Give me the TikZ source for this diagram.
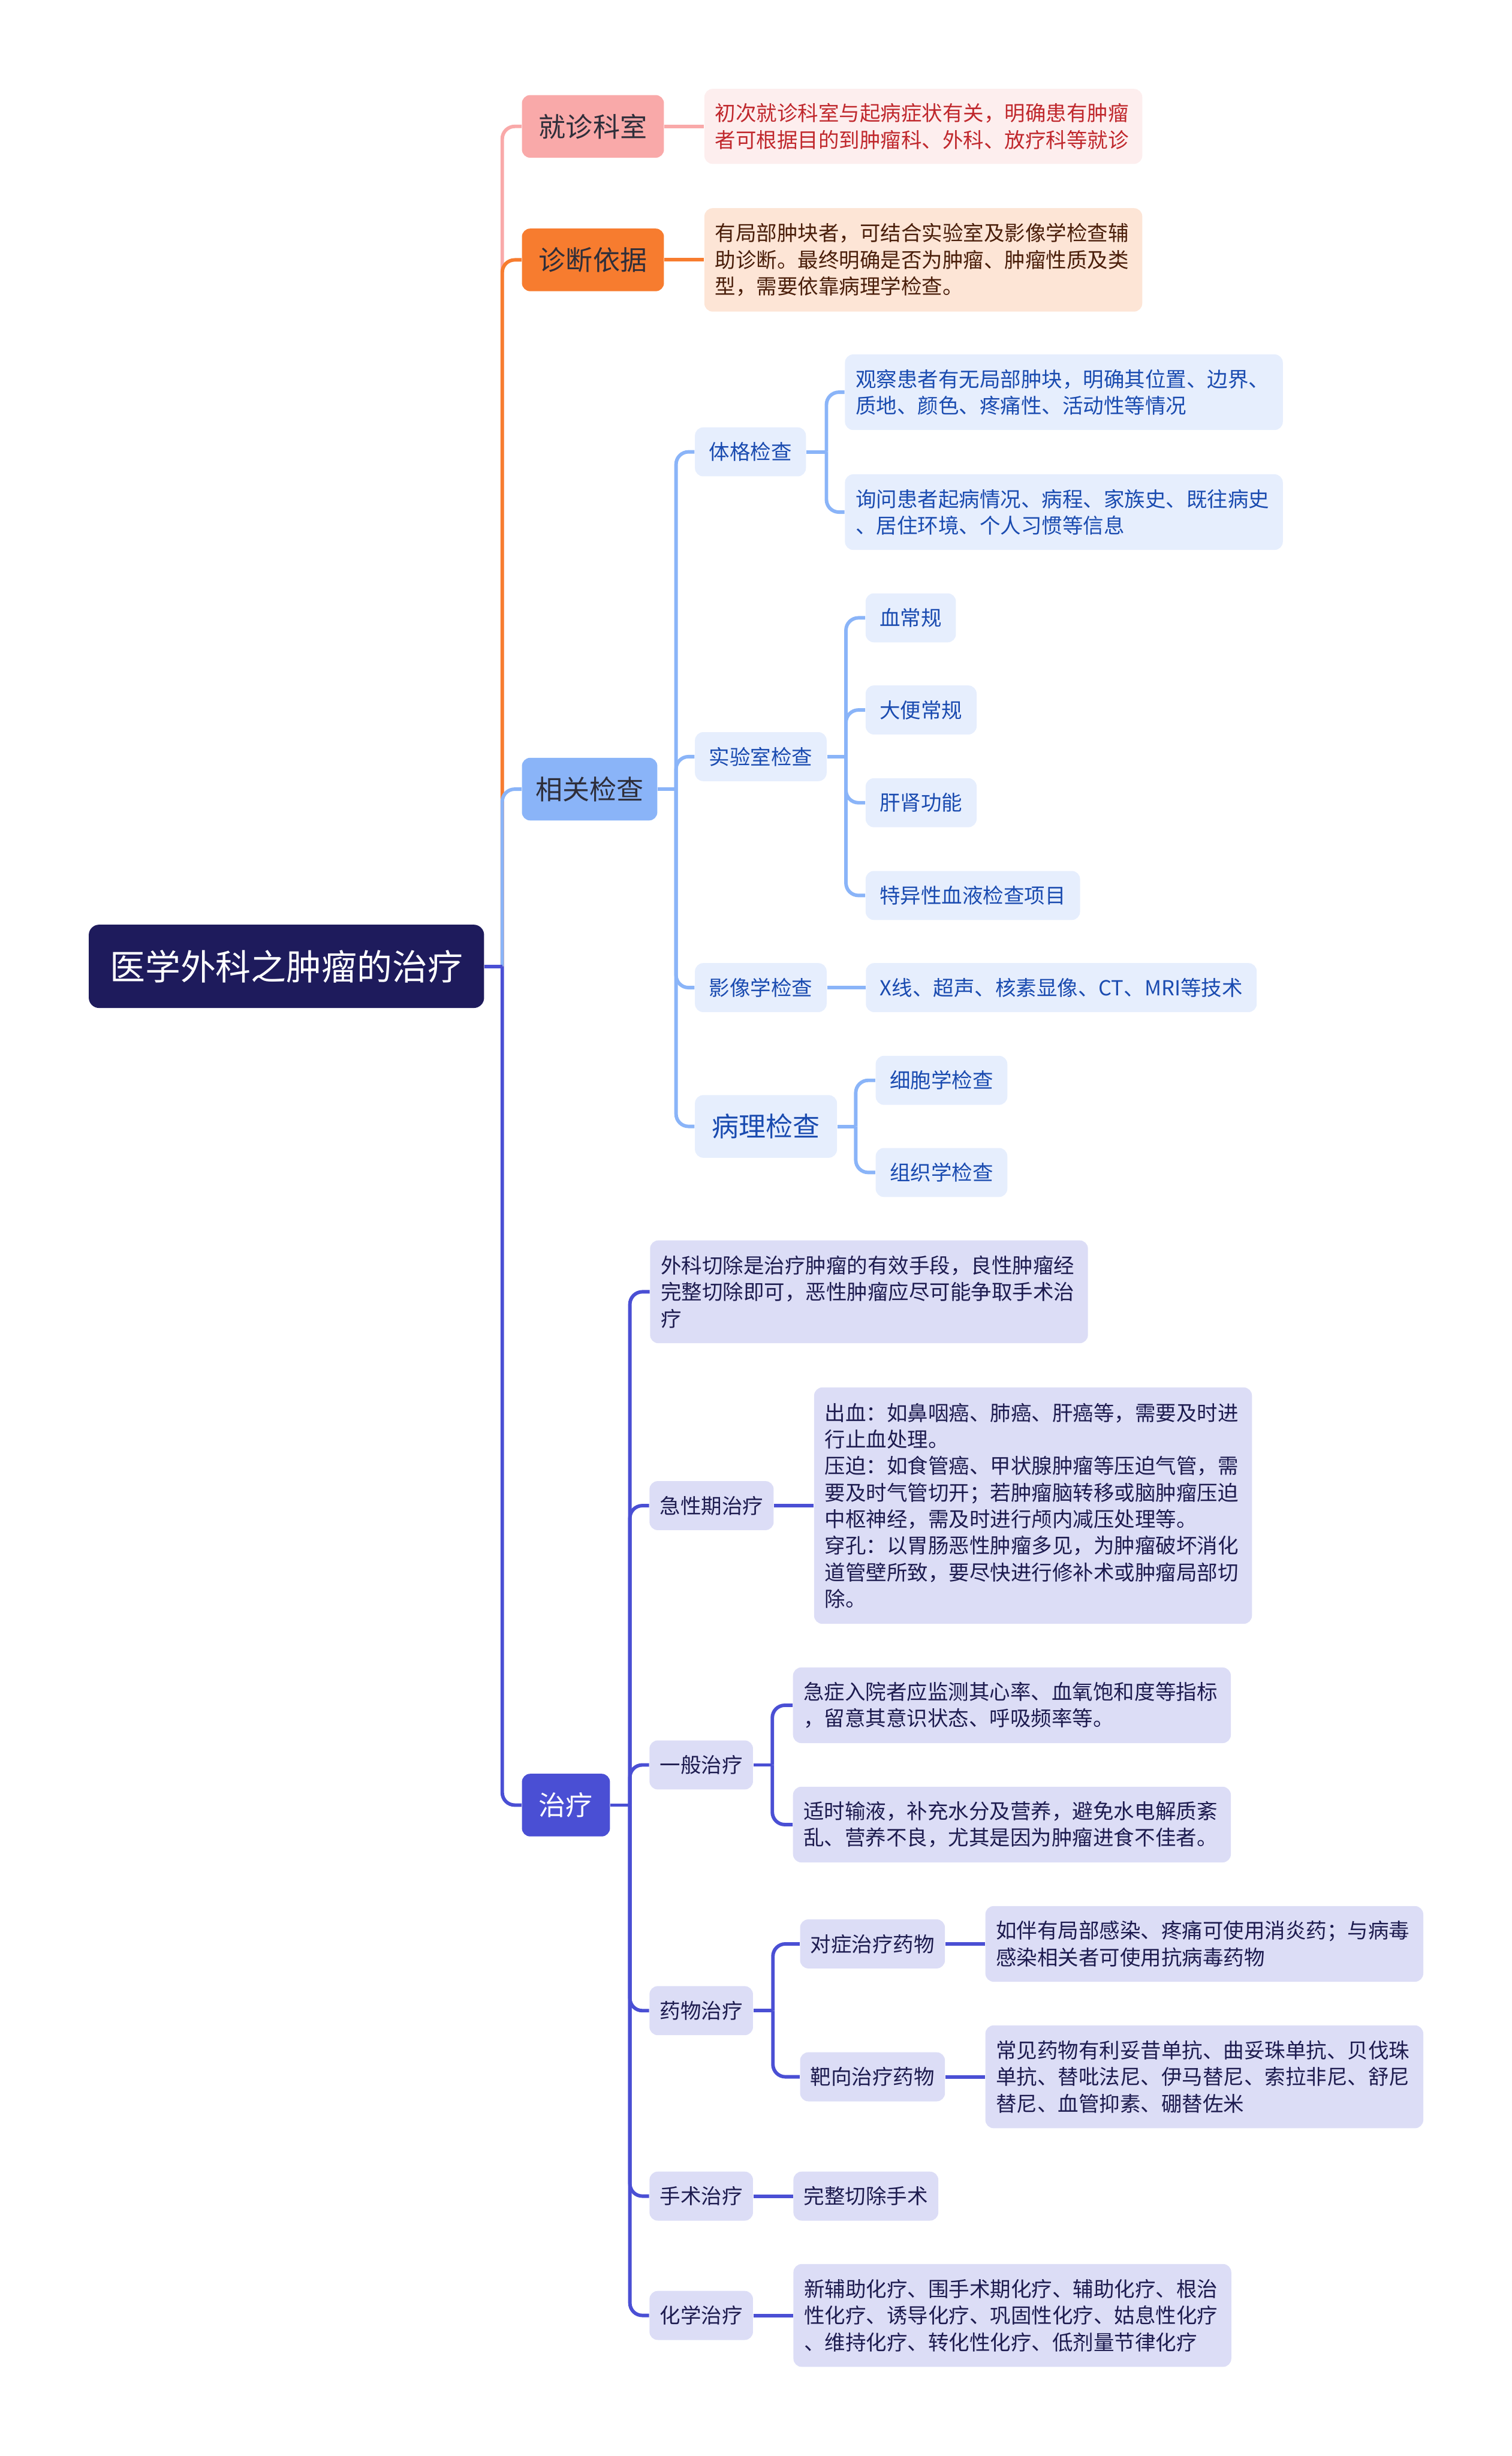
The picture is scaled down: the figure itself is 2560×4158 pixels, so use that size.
\documentclass[tikz,border=0pt]{standalone}
\usepackage{fontspec}
\setmainfont{Noto Sans CJK SC}
\usepackage{xcolor}
\usetikzlibrary{positioning}

\definecolor{rootbg}{HTML}{1E1B5C}
\definecolor{pinkA}{HTML}{F9A9A9}
\definecolor{pinkB}{HTML}{FDEEEE}
\definecolor{pinkT}{HTML}{C0282D}
\definecolor{orangeA}{HTML}{F77C2F}
\definecolor{orangeB}{HTML}{FDE5D6}
\definecolor{orangeT}{HTML}{4A1E0A}
\definecolor{blueA}{HTML}{8AB4F8}
\definecolor{blueB}{HTML}{E6EEFD}
\definecolor{blueT}{HTML}{1A4BB0}
\definecolor{indA}{HTML}{4A4FD4}
\definecolor{indB}{HTML}{DCDDF6}
\definecolor{indT}{HTML}{1D1B4F}
\definecolor{labelT}{HTML}{2E2E3A}

\begin{document}
\begin{tikzpicture}[
  x=0.01cm, y=-0.01cm,
  node distance=5mm and 6.7mm,
  box/.style={rounded corners=4pt,inner ysep=0pt,inner xsep=6.8pt,
              font=\fontsize{9.96}{12.8}\selectfont,minimum height=8.3mm},
  lvone/.style={box,font=\fontsize{13}{16}\selectfont,minimum height=10.6mm,inner xsep=8.2pt},
  leaf/.style={box,text width=7.05cm,align=left,inner xsep=0.18cm},
  bluebox/.style={fill=blueB,text=blueT},
  indbox/.style={fill=indB,text=indT},
  tight/.style={inner xsep=5pt},
  conn/.style={line width=1.7pt},
  elbow/.style={conn,rounded corners=6pt},
]
\useasboundingbox (0,0) rectangle (2560,4158);

% root and main branches
\node[box,fill=rootbg,text=white,font=\fontsize{17}{20}\selectfont,rounded corners=5pt,
      minimum width=6.69cm,minimum height=1.41cm] (root) at (485,1636) {医学外科之肿瘤的治疗};
\node[lvone,fill=pinkA,text=labelT,anchor=west] (jzks) at (883,214) {就诊科室};
\node[leaf,fill=pinkB,text=pinkT,minimum height=12.7mm,right=of jzks] (jzksA)
  {初次就诊科室与起病症状有关，明确患有肿瘤\\者可根据目的到肿瘤科、外科、放疗科等就诊};
\node[lvone,fill=orangeA,text=labelT,anchor=west] (zdyj) at (883,440) {诊断依据};
\node[leaf,fill=orangeB,text=orangeT,minimum height=17.5mm,right=of zdyj] (zdyjA)
  {有局部肿块者，可结合实验室及影像学检查辅\\助诊断。最终明确是否为肿瘤、肿瘤性质及类\\型，需要依靠病理学检查。};
\node[lvone,fill=blueA,text=labelT,anchor=west,inner xsep=6.6pt] (xgjc) at (883,1336) {相关检查};
\node[lvone,fill=indA,text=white,anchor=west] (zl) at (883,3056) {治疗};

% 相关检查
\node[box,bluebox,anchor=west] (tgjc) at (1176,765) {体格检查};
\node[leaf,bluebox,minimum height=12.8mm,anchor=west] (tgjcA) at (1430,664)
  {观察患者有无局部肿块，明确其位置、边界、\\质地、颜色、疼痛性、活动性等情况};
\node[leaf,bluebox,minimum height=12.8mm,anchor=west] (tgjcB) at (1430,867)
  {询问患者起病情况、病程、家族史、既往病史\\、居住环境、个人习惯等信息};
\node[box,bluebox,anchor=west] (sysjc) at (1176,1281) {实验室检查};
\node[box,bluebox,anchor=west] (xcg) at (1465,1046) {血常规};
\node[box,bluebox,anchor=west] (dbcg) at (1465,1202) {大便常规};
\node[box,bluebox,anchor=west] (gsgn) at (1465,1359) {肝肾功能};
\node[box,bluebox,anchor=west] (txx) at (1465,1516) {特异性血液检查项目};
\node[box,bluebox,anchor=west] (yxxjc) at (1176,1672) {影像学检查};
\node[box,bluebox,right=6.5mm of yxxjc] (yxxjcA) {X线、超声、核素显像、CT、MRI等技术};
\node[lvone,bluebox,anchor=west] (bljc) at (1176,1907) {病理检查};
\node[box,bluebox,anchor=west] (xbx) at (1482,1829) {细胞学检查};
\node[box,bluebox,anchor=west] (zzx) at (1482,1985) {组织学检查};

% 治疗
\node[leaf,indbox,minimum height=17.4mm,anchor=west] (wkqc) at (1100,2187)
  {外科切除是治疗肿瘤的有效手段，良性肿瘤经\\完整切除即可，恶性肿瘤应尽可能争取手术治\\疗};
\node[box,indbox,tight,anchor=west] (jxq) at (1099,2549) {急性期治疗};
\node[leaf,indbox,minimum height=40mm,right=of jxq] (jxqA)
  {出血：如鼻咽癌、肺癌、肝癌等，需要及时进\\行止血处理。\\压迫：如食管癌、甲状腺肿瘤等压迫气管，需\\要及时气管切开；若肿瘤脑转移或脑肿瘤压迫\\中枢神经，需及时进行颅内减压处理等。\\穿孔：以胃肠恶性肿瘤多见，为肿瘤破坏消化\\道管壁所致，要尽快进行修补术或肿瘤局部切\\除。};
\node[box,indbox,tight,anchor=west] (ybzl) at (1099,2988) {一般治疗};
\node[leaf,indbox,minimum height=12.8mm,anchor=west] (ybzlA) at (1342,2887)
  {急症入院者应监测其心率、血氧饱和度等指标\\，留意其意识状态、呼吸频率等。};
\node[leaf,indbox,minimum height=12.8mm,anchor=west] (ybzlB) at (1342,3089)
  {适时输液，补充水分及营养，避免水电解质紊\\乱、营养不良，尤其是因为肿瘤进食不佳者。};
\node[box,indbox,tight,anchor=west] (ywzl) at (1099,3404) {药物治疗};
\node[box,indbox,tight,anchor=west] (dzzl) at (1354,3291) {对症治疗药物};
\node[leaf,indbox,minimum height=12.8mm,right=of dzzl] (dzzlA)
  {如伴有局部感染、疼痛可使用消炎药；与病毒\\感染相关者可使用抗病毒药物};
\node[box,indbox,tight,anchor=west] (bxzl) at (1354,3516) {靶向治疗药物};
\node[leaf,indbox,minimum height=17.4mm,right=of bxzl] (bxzlA)
  {常见药物有利妥昔单抗、曲妥珠单抗、贝伐珠\\单抗、替吡法尼、伊马替尼、索拉非尼、舒尼\\替尼、血管抑素、硼替佐米};
\node[box,indbox,tight,anchor=west] (sszl) at (1099,3718) {手术治疗};
\node[box,indbox,tight,right=of sszl] (sszlA) {完整切除手术};
\node[box,indbox,tight,anchor=west] (hxzl) at (1099,3920) {化学治疗};
\node[leaf,indbox,minimum height=17.4mm,right=of hxzl] (hxzlA)
  {新辅助化疗、围手术期化疗、辅助化疗、根治\\性化疗、诱导化疗、巩固性化疗、姑息性化疗\\、维持化疗、转化性化疗、低剂量节律化疗};

% junctions
\coordinate[right=3mm of root] (j0);
\coordinate[right=3.1mm of xgjc] (j1);
\coordinate[right=3.4mm of tgjc] (j2);
\coordinate[right=3.2mm of sysjc] (j3);
\coordinate[right=3.1mm of bljc] (j4);
\coordinate[right=3.3mm of zl] (j5);
\coordinate[right=3.2mm of ybzl] (j6);
\coordinate[right=3.3mm of ywzl] (j7);

% connectors
\draw[elbow,pinkA] (j0) |- (jzks.west); \draw[conn,pinkA] (jzks) -- (jzksA);
\draw[elbow,orangeA] (j0) |- (zdyj.west); \draw[conn,orangeA] (zdyj) -- (zdyjA);
\draw[elbow,blueA] (j0) |- (xgjc.west);
\draw[elbow,indA] (j0) |- (zl.west);
\draw[conn,indA] (root.east) -- (j0);

\draw[conn,blueA] (xgjc.east) -- (j1);
\draw[elbow,blueA] (j1) |- (tgjc.west); \draw[elbow,blueA] (j1) |- (sysjc.west);
\draw[elbow,blueA] (j1) |- (yxxjc.west); \draw[elbow,blueA] (j1) |- (bljc.west);
\draw[conn,blueA] (tgjc.east) -- (j2);
\draw[elbow,blueA] (j2) |- (tgjcA.west); \draw[elbow,blueA] (j2) |- (tgjcB.west);
\draw[conn,blueA] (sysjc.east) -- (j3);
\draw[elbow,blueA] (j3) |- (xcg.west); \draw[elbow,blueA] (j3) |- (dbcg.west);
\draw[elbow,blueA] (j3) |- (gsgn.west); \draw[elbow,blueA] (j3) |- (txx.west);
\draw[conn,blueA] (yxxjc) -- (yxxjcA);
\draw[conn,blueA] (bljc.east) -- (j4);
\draw[elbow,blueA] (j4) |- (xbx.west); \draw[elbow,blueA] (j4) |- (zzx.west);

\draw[conn,indA] (zl.east) -- (j5);
\draw[elbow,indA] (j5) |- (wkqc.west); \draw[elbow,indA] (j5) |- (jxq.west);
\draw[elbow,indA] (j5) |- (ybzl.west); \draw[elbow,indA] (j5) |- (ywzl.west);
\draw[elbow,indA] (j5) |- (sszl.west); \draw[elbow,indA] (j5) |- (hxzl.west);
\draw[conn,indA] (jxq) -- (jxqA);
\draw[conn,indA] (ybzl.east) -- (j6);
\draw[elbow,indA] (j6) |- (ybzlA.west); \draw[elbow,indA] (j6) |- (ybzlB.west);
\draw[conn,indA] (ywzl.east) -- (j7);
\draw[elbow,indA] (j7) |- (dzzl.west); \draw[elbow,indA] (j7) |- (bxzl.west);
\draw[conn,indA] (dzzl) -- (dzzlA); \draw[conn,indA] (bxzl) -- (bxzlA);
\draw[conn,indA] (sszl) -- (sszlA); \draw[conn,indA] (hxzl) -- (hxzlA);
\end{tikzpicture}
\end{document}
